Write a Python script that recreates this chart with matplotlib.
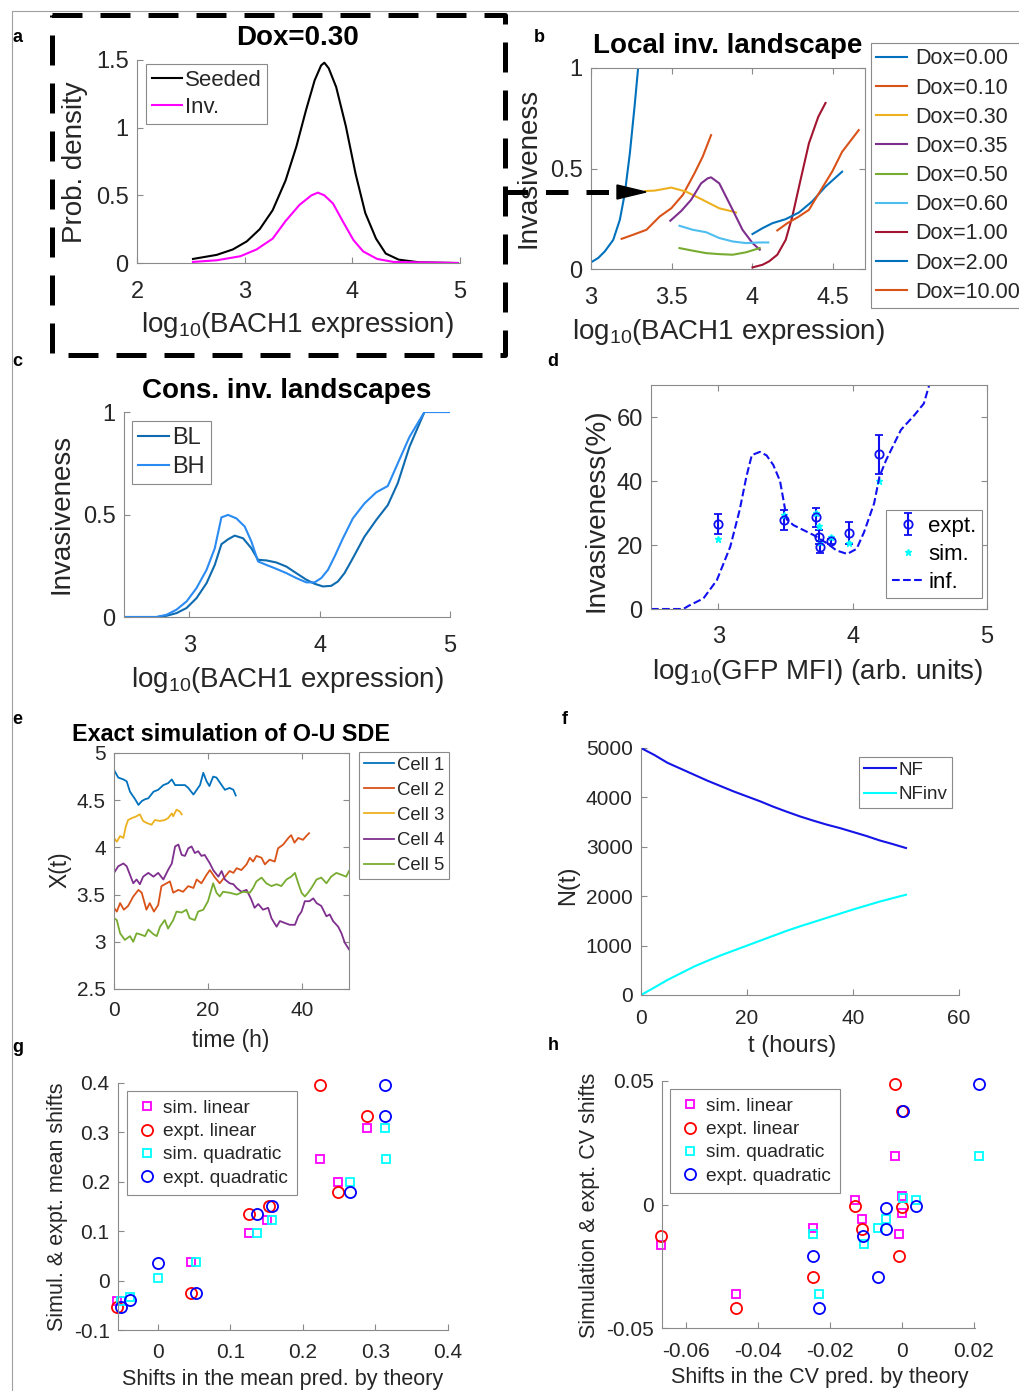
import numpy as np
import matplotlib.pyplot as plt
from matplotlib.lines import Line2D
from matplotlib.patches import Polygon

plt.rcParams['font.family'] = ['Liberation Sans', 'DejaVu Sans']
plt.rcParams['mathtext.fontset'] = 'custom'
plt.rcParams['mathtext.rm'] = 'Liberation Sans'
plt.rcParams['mathtext.default'] = 'regular'
plt.rcParams['axes.unicode_minus'] = False

W, H = 1019, 1391
TXT = '#262626'
AXC = '#8a8a8a'

# ---------------- data ----------------
# a: densities at Dox=0.30
a_seed_x = [2.52, 2.74, 2.89, 3.02, 3.14, 3.26, 3.38, 3.48, 3.57, 3.65, 3.71, 3.74, 3.78, 3.85, 3.94, 4.03, 4.12, 4.22, 4.31, 4.43, 4.62, 4.98]
a_seed_y = [0.03, 0.06, 0.10, 0.16, 0.25, 0.39, 0.61, 0.86, 1.13, 1.35, 1.46, 1.48, 1.44, 1.30, 1.01, 0.66, 0.37, 0.18, 0.07, 0.025, 0.005, 0.0]
a_inv_x = [2.52, 2.74, 2.96, 3.11, 3.26, 3.38, 3.51, 3.62, 3.68, 3.74, 3.82, 3.91, 4.01, 4.10, 4.23, 4.38, 4.98]
a_inv_y = [0.008, 0.02, 0.05, 0.10, 0.18, 0.31, 0.43, 0.50, 0.52, 0.50, 0.44, 0.31, 0.17, 0.086, 0.03, 0.008, 0.0]

# b: local invasiveness landscapes
b_labels = ['Dox=0.00', 'Dox=0.10', 'Dox=0.30', 'Dox=0.35', 'Dox=0.50',
            'Dox=0.60', 'Dox=1.00', 'Dox=2.00', 'Dox=10.00']
b_colors = ['#0072BD', '#D95319', '#EDB120', '#7E2F8E', '#77AC30',
            '#4DBEEE', '#A2142F', '#0072BD', '#D95319']
b_x = [
    [3.0, 3.045, 3.086, 3.138, 3.179, 3.21, 3.241, 3.272, 3.292, 3.30],
    [3.19, 3.26, 3.344, 3.426, 3.498, 3.57, 3.642, 3.693, 3.745],
    [3.337, 3.395, 3.498, 3.59, 3.693, 3.796, 3.879, 3.90],
    [3.492, 3.56, 3.621, 3.683, 3.724, 3.745, 3.796, 3.879, 3.94, 4.002, 4.047],
    [3.549, 3.632, 3.714, 3.796, 3.879, 3.961, 4.047],
    [3.549, 3.632, 3.714, 3.796, 3.879, 3.961, 4.043, 4.10],
    [4.002, 4.064, 4.105, 4.156, 4.208, 4.249, 4.30, 4.352, 4.41, 4.455],
    [4.002, 4.064, 4.126, 4.208, 4.29, 4.372, 4.455, 4.558],
    [4.156, 4.218, 4.28, 4.352, 4.414, 4.496, 4.558, 4.661],
]
b_y = [
    [0.033, 0.055, 0.088, 0.145, 0.245, 0.377, 0.575, 0.823, 0.997, 1.1],
    [0.15, 0.17, 0.195, 0.261, 0.302, 0.369, 0.476, 0.559, 0.666],
    [0.388, 0.39, 0.405, 0.385, 0.344, 0.302, 0.286, 0.281],
    [0.24, 0.289, 0.344, 0.426, 0.451, 0.456, 0.426, 0.294, 0.195, 0.129, 0.096],
    [0.104, 0.091, 0.079, 0.074, 0.071, 0.083, 0.104],
    [0.215, 0.195, 0.183, 0.154, 0.137, 0.129, 0.132, 0.132],
    [0.008, 0.021, 0.038, 0.071, 0.145, 0.261, 0.443, 0.625, 0.757, 0.826],
    [0.174, 0.203, 0.228, 0.248, 0.281, 0.336, 0.41, 0.484],
    [0.192, 0.228, 0.256, 0.294, 0.377, 0.484, 0.583, 0.691],
]

# c: consensus landscapes
c_bl_x = [2.5, 2.75, 2.827, 2.903, 2.98, 3.056, 3.133, 3.196, 3.247, 3.298, 3.349, 3.413, 3.477, 3.528, 3.592, 3.668, 3.745, 3.821, 3.898, 3.962, 4.026, 4.089, 4.14, 4.191, 4.255, 4.344, 4.434, 4.523, 4.599, 4.689, 4.804, 5.0]
c_bl_y = [0, 0, 0.006, 0.019, 0.044, 0.092, 0.165, 0.254, 0.355, 0.379, 0.397, 0.384, 0.335, 0.279, 0.276, 0.266, 0.246, 0.214, 0.182, 0.162, 0.149, 0.152, 0.173, 0.214, 0.287, 0.392, 0.473, 0.546, 0.652, 0.83, 1.0, 1.0]
c_bh_x = [2.5, 2.75, 2.827, 2.903, 2.98, 3.056, 3.133, 3.196, 3.247, 3.298, 3.362, 3.426, 3.477, 3.528, 3.592, 3.668, 3.745, 3.821, 3.898, 3.962, 4.013, 4.064, 4.115, 4.179, 4.255, 4.344, 4.434, 4.523, 4.599, 4.689, 4.804, 5.0]
c_bh_y = [0, 0, 0.011, 0.036, 0.076, 0.141, 0.23, 0.335, 0.486, 0.498, 0.481, 0.441, 0.368, 0.271, 0.254, 0.235, 0.214, 0.19, 0.169, 0.169, 0.19, 0.23, 0.295, 0.384, 0.481, 0.554, 0.608, 0.639, 0.749, 0.878, 1.0, 1.0]

# d: experiment vs simulation vs inferred
d_x = [3.0, 3.49, 3.73, 3.75, 3.76, 3.84, 3.975, 4.20]
d_expt = [26.6, 27.8, 28.6, 22.6, 19.4, 21.2, 23.8, 48.3]
d_err = [3.1, 3.2, 2.9, 2.2, 1.9, 0.8, 3.5, 6.1]
d_sim = [21.8, 29.3, 29.9, 26.0, 20.8, 22.6, 20.5, 40.0]
d_inf_x = [2.5, 2.74, 2.78, 2.89, 2.99, 3.09, 3.16, 3.21, 3.25, 3.31, 3.36, 3.41, 3.46, 3.49, 3.51, 3.56, 3.71, 3.81, 3.88, 3.96, 4.03, 4.085, 4.16, 4.20, 4.25, 4.36, 4.46, 4.53, 4.57]
d_inf_y = [0, 0, 1, 3.3, 9, 19.5, 31, 41.4, 48.1, 49.1, 48, 45, 40, 33, 28, 26.2, 23.1, 20.5, 18.3, 17.2, 18.8, 24, 33, 41.4, 46.6, 56, 60.6, 64.2, 70]

# e: O-U sample paths
e_labels = ['Cell 1', 'Cell 2', 'Cell 3', 'Cell 4', 'Cell 5']
e_colors = ['#0072BD', '#D95319', '#EDB120', '#7E2F8E', '#77AC30']
e_t = [
    [0, 0.9, 2, 2.7, 3.4, 4.5, 5.2, 5.9, 6.6, 7.3, 8.4, 9.4, 10.5, 11.5, 12.3, 13, 14, 15.1, 15.8, 16.9, 17.6, 18.3, 19, 19.7, 20.3, 21.1, 21.8, 22.9, 23.6, 24.6, 25.4, 25.9],
    [0, 0.6, 1.3, 2.1, 3, 4.1, 5.2, 5.9, 6.9, 7.6, 8.5, 9.4, 10.1, 11.2, 11.9, 12.6, 13.7, 14.7, 15.8, 16.9, 17.6, 18.6, 19.7, 20.4, 21.5, 22.5, 23.6, 24.6, 25.4, 26.1, 27.1, 28.2, 28.9, 29.6, 30.3, 31.4, 32.1, 33.1, 34.2, 34.9, 36, 37.1, 37.7, 38.4, 39.2, 40.2, 40.9, 41.5],
    [0, 0.6, 1.3, 2, 2.5, 3, 3.8, 4.8, 5.5, 6.2, 6.9, 8, 8.7, 9.8, 10.8, 11.5, 12.3, 12.6, 13.3, 14, 14.4],
    [0, 0.9, 2, 2.7, 3.4, 4.1, 4.8, 5.5, 6.2, 7.3, 8.4, 9.4, 10.5, 11.5, 12.3, 13, 13.7, 14.4, 15.1, 15.8, 16.5, 17.2, 17.9, 18.6, 19.3, 20.4, 21.1, 22.2, 22.9, 23.6, 24.6, 25.4, 26.1, 27.1, 28.2, 29.2, 29.9, 30.7, 31.7, 32.8, 33.5, 34.6, 35.3, 36.3, 37.4, 38.5, 39.2, 39.9, 40.6, 41.6, 42.4, 43.1, 44.1, 45.2, 45.9, 46.6, 47.7, 48.4, 49.1, 50],
    [0, 0.6, 1.3, 2.3, 3.4, 4.1, 4.8, 5.5, 6.6, 7.3, 8.4, 9.1, 9.8, 10.8, 11.5, 12.6, 13.3, 14.4, 15.4, 16.1, 17.2, 17.9, 19, 20, 21.1, 21.8, 22.5, 23.2, 24.6, 26.1, 27.5, 28.9, 29.6, 30.3, 31.4, 32.4, 33.5, 34.6, 35.6, 36.7, 37.7, 38.5, 39.2, 39.9, 40.6, 41.3, 42, 43.1, 44.1, 45.2, 46.2, 47.3, 48.4, 49.4, 50],
]
e_x = [
    [4.82, 4.74, 4.72, 4.70, 4.59, 4.51, 4.45, 4.49, 4.51, 4.52, 4.59, 4.61, 4.66, 4.68, 4.72, 4.66, 4.66, 4.66, 4.63, 4.56, 4.61, 4.66, 4.79, 4.70, 4.65, 4.75, 4.74, 4.66, 4.61, 4.63, 4.61, 4.55],
    [3.36, 3.32, 3.41, 3.34, 3.38, 3.48, 3.55, 3.52, 3.34, 3.41, 3.32, 3.39, 3.59, 3.62, 3.64, 3.52, 3.55, 3.53, 3.59, 3.57, 3.66, 3.62, 3.71, 3.76, 3.68, 3.62, 3.69, 3.75, 3.73, 3.78, 3.76, 3.82, 3.89, 3.85, 3.91, 3.89, 3.82, 3.87, 3.85, 3.99, 4.03, 4.10, 4.13, 4.05, 4.10, 4.08, 4.12, 4.15],
    [4.10, 4.06, 4.12, 4.10, 4.22, 4.29, 4.31, 4.33, 4.35, 4.28, 4.26, 4.24, 4.29, 4.28, 4.29, 4.31, 4.36, 4.33, 4.40, 4.38, 4.35],
    [3.73, 3.80, 3.83, 3.80, 3.71, 3.62, 3.66, 3.61, 3.69, 3.73, 3.69, 3.73, 3.66, 3.76, 3.83, 4.01, 4.03, 3.92, 3.91, 3.99, 4.01, 3.94, 3.96, 3.91, 3.92, 3.83, 3.76, 3.69, 3.75, 3.66, 3.62, 3.61, 3.57, 3.53, 3.55, 3.45, 3.36, 3.40, 3.34, 3.36, 3.25, 3.16, 3.22, 3.20, 3.18, 3.18, 3.27, 3.32, 3.43, 3.43, 3.46, 3.41, 3.38, 3.27, 3.29, 3.22, 3.16, 3.09, 2.99, 2.92],
    [3.25, 3.23, 3.09, 3.02, 3.06, 3.00, 3.09, 3.08, 3.06, 3.13, 3.08, 3.06, 3.16, 3.23, 3.14, 3.23, 3.32, 3.31, 3.34, 3.25, 3.23, 3.32, 3.34, 3.43, 3.62, 3.52, 3.48, 3.53, 3.52, 3.50, 3.53, 3.52, 3.57, 3.64, 3.68, 3.62, 3.59, 3.61, 3.59, 3.66, 3.69, 3.73, 3.62, 3.52, 3.48, 3.52, 3.57, 3.66, 3.68, 3.62, 3.69, 3.73, 3.71, 3.69, 3.75],
]

# f: number of cells
f_t = [0, 2.5, 5, 7.5, 10, 12.5, 15, 17.5, 20, 22.5, 25, 27.5, 30, 32.5, 35, 37.5, 40, 42.5, 45, 47.5, 50]
f_nf = [5000, 4860, 4700, 4580, 4460, 4340, 4230, 4120, 4020, 3920, 3810, 3710, 3615, 3530, 3450, 3380, 3300, 3220, 3130, 3055, 2975]
f_nfinv = [0, 150, 305, 440, 575, 690, 800, 900, 1000, 1100, 1200, 1300, 1390, 1475, 1560, 1645, 1730, 1810, 1890, 1960, 2030]

# g: shifts in the mean
g_sl_x = [-0.057, 0.046, 0.126, 0.151, 0.224, 0.248, 0.289]
g_sl_y = [-0.041, 0.037, 0.096, 0.122, 0.247, 0.200, 0.308]
g_el_x = [-0.057, 0.046, 0.126, 0.153, 0.224, 0.248, 0.289]
g_el_y = [-0.054, -0.025, 0.135, 0.151, 0.396, 0.180, 0.333]
g_sq_x = [-0.051, -0.039, 0.0, 0.053, 0.137, 0.158, 0.265, 0.313, 0.314]
g_sq_y = [-0.041, -0.034, 0.005, 0.037, 0.096, 0.122, 0.200, 0.308, 0.247]
g_eq_x = [-0.051, -0.039, 0.0, 0.053, 0.137, 0.158, 0.265, 0.313, 0.313]
g_eq_y = [-0.054, -0.039, 0.035, -0.025, 0.135, 0.151, 0.180, 0.333, 0.396]

# h: shifts in the CV
h_sl_x = [-0.0669, -0.0461, -0.0246, -0.0131, -0.0112, -0.0019, -0.0008, -0.0001, 0.0001]
h_sl_y = [-0.0162, -0.0361, -0.0097, 0.0018, -0.0057, 0.0195, -0.0121, 0.0034, -0.0034]
h_el_x = [-0.0669, -0.0461, -0.0246, -0.0131, -0.0112, -0.0019, -0.0008, -0.0001, 0.0001]
h_el_y = [-0.0128, -0.0420, -0.0292, -0.0007, -0.0098, 0.0489, -0.0209, 0.0377, -0.0009]
h_sq_x = [-0.0246, -0.0232, -0.0105, -0.0068, -0.0045, 0.0004, 0.0039, 0.0215]
h_sq_y = [-0.0121, -0.0361, -0.0158, -0.0097, -0.0057, 0.0027, 0.0018, 0.0195]
h_eq_x = [-0.0246, -0.0232, -0.0107, -0.0068, -0.0045, -0.0043, 0.0004, 0.0039, 0.0215]
h_eq_y = [-0.0209, -0.0420, -0.0128, -0.0292, -0.0098, -0.0013, 0.0377, -0.0007, 0.0489]

# ---------------- helpers ----------------
fig = plt.figure(figsize=(W / 100, H / 100), dpi=100)


def add_ax(box, boxed=False, tsize=17, xpad=13):
    l, t, r, b = box
    ax = fig.add_axes([l / W, 1 - b / H, (r - l) / W, (b - t) / H])
    for s in ['top', 'right']:
        ax.spines[s].set_visible(boxed)
    for s in ax.spines.values():
        s.set_color(AXC)
        s.set_linewidth(0.8)
    ax.tick_params(direction='in', length=4, width=0.8, color=AXC,
                   labelcolor=TXT, labelsize=tsize, top=boxed, right=boxed)
    ax.tick_params(axis='x', pad=xpad)
    ax.tick_params(axis='y', pad=6)
    return ax


def labels(ax, box, xlab, xpos, ylab, ypos, size):
    l, t, r, b = box
    ax.set_xlabel(xlab, fontsize=size, color=TXT)
    ax.xaxis.set_label_coords((xpos[0] - l) / (r - l), (b - xpos[1]) / (b - t))
    ax.xaxis.label.set_va('center')
    ax.set_ylabel(ylab, fontsize=size, color=TXT)
    ax.yaxis.set_label_coords((ypos[0] - l) / (r - l), (b - ypos[1]) / (b - t))
    ax.yaxis.label.set_va('center')


def legend(ax, x0, y0, size, **kw):
    opts = dict(loc='upper left', bbox_to_anchor=(x0 / W, 1 - y0 / H),
                bbox_transform=fig.transFigure, fontsize=size, frameon=True,
                fancybox=False, edgecolor=AXC, framealpha=1, borderpad=0.25,
                handletextpad=0.15, borderaxespad=0, labelspacing=0.3)
    opts.update(kw)
    leg = ax.legend(**opts)
    leg.get_frame().set_linewidth(0.8)
    for t in leg.get_texts():
        t.set_color(TXT)
    return leg


def title(x, y, s, size=20):
    fig.text(x / W, 1 - y / H, s, ha='center', va='center', fontsize=size,
             fontweight='bold', color='black')


LOG_BACH = r'log$_{10}$(BACH1 expression)'

# ---------------- a ----------------
box_a = (137, 60, 460, 263)
ax = add_ax(box_a)
ax.plot(a_seed_x, a_seed_y, color='black', lw=1.5, label='Seeded')
ax.plot(a_inv_x, a_inv_y, color='magenta', lw=1.5, label='Inv.')
ax.set_xlim(2, 5)
ax.set_ylim(0, 1.5)
ax.set_xticks([2, 3, 4, 5])
ax.set_yticks([0, 0.5, 1, 1.5])
ax.set_yticklabels(['0', '0.5', '1', '1.5'])
labels(ax, box_a, LOG_BACH, (297, 325), 'Prob. density', (75, 162), 20)
legend(ax, 146, 64, 16, handlelength=1.35)
title(298, 38, 'Dox=0.30')

# ---------------- b ----------------
box_b = (591, 68, 865, 269)
ax = add_ax(box_b, boxed=True)
for xs, ys, lab, col in zip(b_x, b_y, b_labels, b_colors):
    ax.plot(xs, ys, color=col, lw=1.5, label=lab)
ax.set_xlim(3, 4.7)
ax.set_ylim(0, 1)
ax.set_xticks([3, 3.5, 4, 4.5])
ax.set_xticklabels(['3', '3.5', '4', '4.5'])
ax.set_yticks([0, 0.5, 1])
ax.set_yticklabels(['0', '0.5', '1'])
labels(ax, box_b, LOG_BACH, (728, 332), 'Invasiveness', (528, 168), 20)
legend(ax, 871, 43, 15.5, handlelength=1.4, handletextpad=0.4,
       labelspacing=0.38)
title(728, 46, 'Local inv. landscape')

# ---------------- c ----------------
box_c = (124, 412, 450, 617)
ax = add_ax(box_c)
ax.plot(c_bl_x, c_bl_y, color='#0E6BB0', lw=1.5, label='BL')
ax.plot(c_bh_x, c_bh_y, color='#2A8BF2', lw=1.5, label='BH')
ax.set_xlim(2.5, 5)
ax.set_ylim(0, 1)
ax.set_xticks([3, 4, 5])
ax.set_yticks([0, 0.5, 1])
ax.set_yticklabels(['0', '0.5', '1'])
labels(ax, box_c, LOG_BACH, (287, 680), 'Invasiveness', (62, 514), 20)
legend(ax, 132, 421, 17, handlelength=1.3)
title(287, 391, 'Cons. inv. landscapes')

# ---------------- d ----------------
box_d = (651, 385, 987, 609)
ax = add_ax(box_d, boxed=True, xpad=12)
h_expt = ax.errorbar(d_x, d_expt, yerr=d_err, fmt='o', color='#1010F0', mfc='none',
                     ms=6, mew=1.3, elinewidth=1.5, capsize=3, capthick=1.5)
h_sim, = ax.plot(d_x, d_sim, '*', color='cyan', ms=5)
h_inf, = ax.plot(d_inf_x, d_inf_y, '--', color='#1010F0', lw=1.5)
ax.set_xlim(2.5, 5)
ax.set_ylim(0, 70)
ax.set_xticks([3, 4, 5])
ax.set_yticks([0, 20, 40, 60])
labels(ax, box_d, r'log$_{10}$(GFP MFI) (arb. units)', (818, 672),
       'Invasiveness(%)', (597, 510), 20)
leg = ax.legend([h_expt, h_sim, h_inf], ['expt.', 'sim.', 'inf.'],
                loc='upper left', bbox_to_anchor=(886 / W, 1 - 510 / H),
                bbox_transform=fig.transFigure, fontsize=16, fancybox=False,
                edgecolor=AXC, framealpha=1, borderpad=0.25, handletextpad=0.15,
                borderaxespad=0, labelspacing=0.32, handlelength=1.5)
leg.get_frame().set_linewidth(0.8)

# ---------------- e ----------------
box_e = (114, 753, 349, 989)
ax = add_ax(box_e, boxed=True, tsize=15, xpad=9)
for ts, xs, lab, col in zip(e_t, e_x, e_labels, e_colors):
    ax.plot(ts, xs, color=col, lw=1.3, label=lab)
ax.set_xlim(0, 50)
ax.set_ylim(2.5, 5)
ax.set_xticks([0, 20, 40])
ax.set_yticks([2.5, 3, 3.5, 4, 4.5, 5])
ax.set_yticklabels(['2.5', '3', '3.5', '4', '4.5', '5'])
labels(ax, box_e, 'time (h)', (231, 1040), 'X(t)', (60, 870), 16.5)
legend(ax, 359, 752, 13.3, handlelength=1.65, labelspacing=0.44)
title(231, 735, 'Exact simulation of O-U SDE', size=16.8)

# ---------------- f ----------------
box_f = (641, 748, 959, 995)
ax = add_ax(box_f, tsize=15, xpad=10)
ax.plot(f_t, f_nf, color='#1414E6', lw=1.5, label='NF')
ax.plot(f_t, f_nfinv, color='cyan', lw=1.5, label='NFinv')
ax.set_xlim(0, 60)
ax.set_ylim(0, 5000)
ax.set_xticks([0, 20, 40, 60])
ax.set_yticks([0, 1000, 2000, 3000, 4000, 5000])
labels(ax, box_f, 't (hours)', (792, 1046), 'N(t)', (568, 885), 17)
legend(ax, 859, 757, 13.5, handlelength=1.7, labelspacing=0.4)


# ---------------- g / h ----------------
def scatter4(ax, sl, el, sq, eq):
    ax.plot(sl[0], sl[1], 's', color='magenta', mfc='none', ms=6, mew=1.3,
            ls='none', label='sim. linear')
    ax.plot(el[0], el[1], 'o', color='red', mfc='none', ms=8, mew=1.3,
            ls='none', label='expt. linear')
    ax.plot(sq[0], sq[1], 's', color='cyan', mfc='none', ms=6, mew=1.3,
            ls='none', label='sim. quadratic')
    ax.plot(eq[0], eq[1], 'o', color='blue', mfc='none', ms=8, mew=1.3,
            ls='none', label='expt. quadratic')
    for line in ax.lines:
        line.set_clip_on(False)


box_g = (118, 1083, 448, 1330)
ax = add_ax(box_g, tsize=15, xpad=9)
scatter4(ax, (g_sl_x, g_sl_y), (g_el_x, g_el_y), (g_sq_x, g_sq_y), (g_eq_x, g_eq_y))
ax.set_xlim(-0.055, 0.4)
ax.set_ylim(-0.1, 0.4)
ax.set_xticks([0, 0.1, 0.2, 0.3, 0.4])
ax.set_xticklabels(['0', '0.1', '0.2', '0.3', '0.4'])
ax.set_yticks([-0.1, 0, 0.1, 0.2, 0.3, 0.4])
ax.set_yticklabels(['-0.1', '0', '0.1', '0.2', '0.3', '0.4'])
labels(ax, box_g, 'Shifts in the mean pred. by theory', (283, 1380),
       'Simul. & expt. mean shifts', (58, 1207), 15.5)
legend(ax, 127, 1091, 13.8, handlelength=1.2, handletextpad=0.25,
       borderpad=0.45, numpoints=1)

box_h = (662, 1081, 975, 1328)
ax = add_ax(box_h, tsize=15, xpad=10)
scatter4(ax, (h_sl_x, h_sl_y), (h_el_x, h_el_y), (h_sq_x, h_sq_y), (h_eq_x, h_eq_y))
ax.set_xlim(-0.0667, 0.0203)
ax.set_ylim(-0.05, 0.05)
ax.set_xticks([-0.06, -0.04, -0.02, 0, 0.02])
ax.set_xticklabels(['-0.06', '-0.04', '-0.02', '0', '0.02'])
ax.set_yticks([-0.05, 0, 0.05])
ax.set_yticklabels(['-0.05', '0', '0.05'])
labels(ax, box_h, 'Shifts in the CV pred. by theory', (820, 1378),
       'Simulation & expt. CV shifts', (590, 1205), 15.5)
legend(ax, 670, 1089, 13.8, handlelength=1.2, handletextpad=0.25,
       borderpad=0.45, numpoints=1)

# ---------------- overlay: frame, dashed box, arrow, panel letters ----------------
ov = fig.add_axes([0, 0, 1, 1], zorder=10)
ov.set_xlim(0, W)
ov.set_ylim(H, 0)
ov.axis('off')
ov.patch.set_alpha(0)
ov.add_line(Line2D([12, 12, W], [H, 11, 11], color='#a0a0a0', lw=0.8))
ov.add_line(Line2D([52, 505, 505, 52, 52], [15, 15, 355, 355, 15], color='black',
                   lw=3.6, dashes=(6, 3.6)))
ov.add_line(Line2D([505, 620], [192, 192], color='black', lw=3.6, dashes=(4.5, 3.6)))
ov.add_patch(Polygon([(617, 185), (617, 199), (646, 192)], closed=True,
                     color='black'))
for s, x, y in [('a', 18, 37), ('b', 539, 38), ('c', 17, 362), ('d', 553, 362),
                ('e', 17, 720), ('f', 565, 719), ('g', 18, 1047), ('h', 553, 1046)]:
    ov.text(x, y, s, ha='center', va='center', fontsize=13, fontweight='bold')

fig.savefig('out.png', dpi=100)
